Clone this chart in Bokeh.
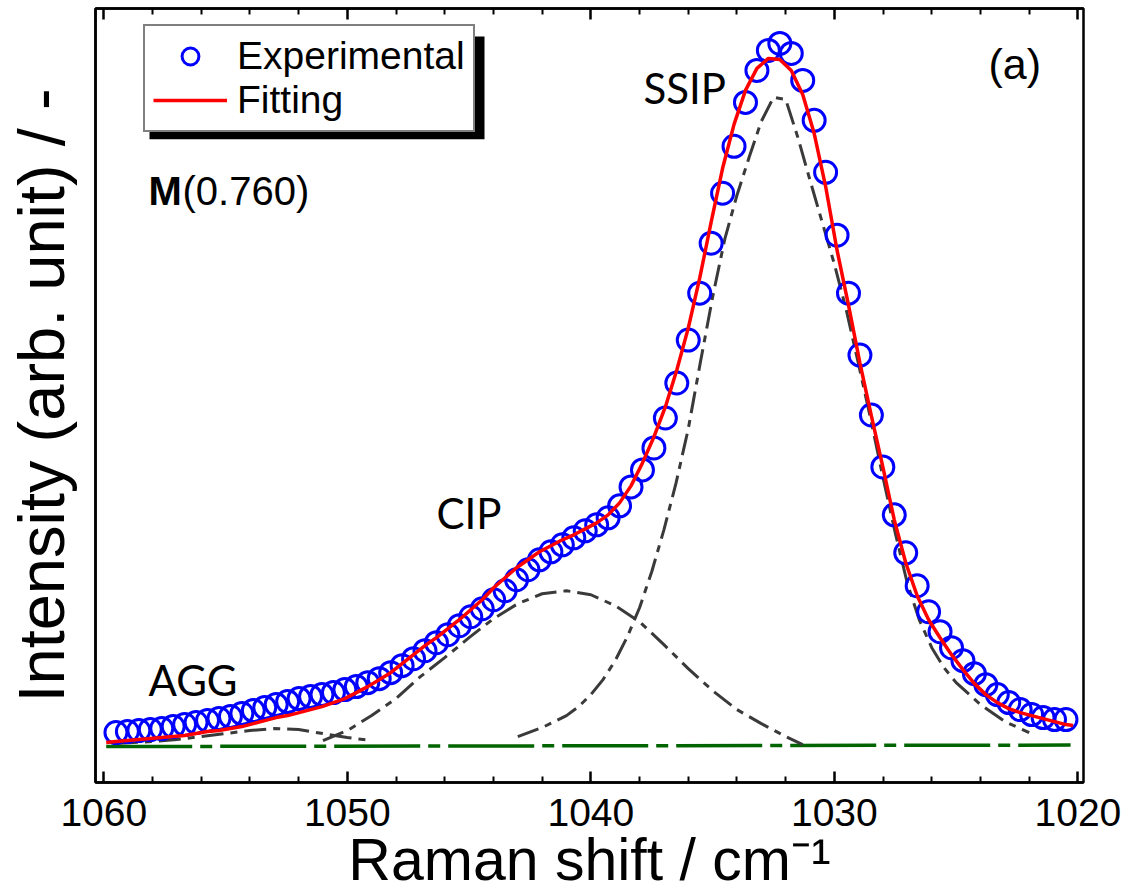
from bokeh.plotting import figure
from bokeh.models import (Range1d, LinearAxis, FixedTicker, Legend, LegendItem,
                          Label, BoxAnnotation)
from bokeh.embed import file_html
from bokeh.resources import INLINE

# ---------------- data ----------------
WAVENUMBER = [
    1059.50, 1059.03, 1058.56, 1058.09, 1057.62, 1057.15, 1056.68, 1056.21, 1055.74, 1055.27,
    1054.80, 1054.33, 1053.86, 1053.39, 1052.92, 1052.45, 1051.98, 1051.51, 1051.04, 1050.57,
    1050.10, 1049.63, 1049.16, 1048.69, 1048.22, 1047.75, 1047.28, 1046.81, 1046.34, 1045.87,
    1045.40, 1044.93, 1044.46, 1043.99, 1043.52, 1043.05, 1042.58, 1042.11, 1041.64, 1041.17,
    1040.70, 1040.23, 1039.76, 1039.29, 1038.82, 1038.35, 1037.88, 1037.41, 1036.94, 1036.47,
    1036.00, 1035.53, 1035.06, 1034.59, 1034.12, 1033.65, 1033.18, 1032.71, 1032.24, 1031.77,
    1031.30, 1030.83, 1030.36, 1029.89, 1029.42, 1028.95, 1028.48, 1028.01, 1027.54, 1027.07,
    1026.60, 1026.13, 1025.66, 1025.19, 1024.72, 1024.25, 1023.78, 1023.31, 1022.84, 1022.37,
    1021.90, 1021.43, 1020.96, 1020.49]

EXPERIMENTAL = [
    14, 15, 16, 17, 18, 20, 22, 24, 26, 28,
    30, 33, 36, 39, 42, 45, 48, 50, 52, 54,
    57, 60, 64, 68, 74, 81, 88, 96, 104, 112,
    121, 130, 138, 147, 156, 167, 177, 187, 195, 202,
    209, 216, 222, 229, 241, 260, 277, 299, 329, 364,
    407, 454, 504, 554, 601, 645, 677, 697, 704, 694,
    667, 627, 575, 512, 454, 392, 332, 280, 232, 194,
    161, 135, 115, 99, 86, 73, 62, 52, 44, 37,
    32, 29, 27, 27]

FIT_X = [1059.90] + WAVENUMBER + [1020.20]
FITTING = [4,
    5, 6, 7, 8, 9, 10, 11, 13, 15, 16,
    18, 20, 23, 26, 29, 31, 34, 37, 40, 44,
    48, 54, 60, 67, 74, 83, 92, 101, 109, 118,
    127, 137, 147, 159, 169, 179, 187, 195, 201, 207,
    212, 218, 224, 232, 244, 261, 284, 310, 340, 377,
    419, 469, 525, 579, 623, 657, 679, 689, 688, 677,
    653, 614, 561, 497, 442, 384, 331, 280, 227, 184,
    151, 127, 109, 92, 77, 63, 52, 44, 38, 34,
    31, 28, 25, 22,
    21]

SSIP_X = [1043, 1042, 1041, 1040.5, 1040, 1039.5, 1039, 1038.5, 1038, 1037.5, 1037,
          1036.5, 1036, 1035.5, 1035, 1034.5, 1034, 1033.5, 1033, 1032.5, 1032, 1031.5,
          1031, 1030.5, 1030, 1029.5, 1029, 1028.5, 1028, 1027.5, 1027, 1026.5, 1026,
          1025.5, 1025, 1024, 1023, 1022]
SSIP_Y = [10, 19, 31, 40, 52, 67, 86, 110, 139, 175, 217,
          264, 318, 385, 450, 508, 552, 590, 626, 650, 648, 610,
          567, 525, 483, 436, 382, 327, 269, 214, 163, 126, 99,
          79, 64, 42, 25, 14]

CIP_X = [1051, 1050, 1049, 1048, 1047, 1046, 1045, 1044, 1043, 1042, 1041, 1040,
         1039, 1038, 1037, 1036, 1035, 1034, 1033, 1032, 1031.3]
CIP_Y = [6, 16, 31, 48, 70, 89, 109, 128, 143, 153, 156, 152,
         141, 125, 102, 78, 56, 37, 23, 10, 2]

AGG_X = [1059.5, 1058, 1057, 1056, 1055, 1054, 1053, 1052, 1051, 1050, 1049]
AGG_Y = [3, 5, 7, 10, 13, 16, 18, 17, 13, 9, 6]

BASE_X = [1059.9, 1020.3]
BASE_Y = [0, 1.5]

MAJOR_TICKS = [1060, 1050, 1040, 1030, 1020]
MINOR_TICKS = [1058, 1056, 1054, 1052, 1048, 1046, 1044, 1042, 1038, 1036, 1034,
               1032, 1028, 1026, 1024, 1022]

# ---------------- layout ----------------
W, H = 1122, 895
FL, FR, FT, FB = 95, 1083, 8, 783
X_START, X_END = 1060.34, 1019.77
Y_START, Y_END = -36, 739


def dx(px):
    return X_START + (px - FL) / (FR - FL) * (X_END - X_START)


def dy(py):
    return Y_START + (FB - py) / (FB - FT) * (Y_END - Y_START)


p = figure(width=W, height=H, x_range=Range1d(X_START, X_END),
           y_range=Range1d(Y_START, Y_END), output_backend="svg",
           toolbar_location=None, min_border_left=FL, min_border_right=W - FR,
           min_border_top=FT, min_border_bottom=H - FB,
           background_fill_color="white", border_fill_color="white",
           outline_line_color="black", outline_line_width=2.5)
p.grid.visible = False

ARIAL = "Liberation Sans"

# bottom axis
xb = p.xaxis[0]
xb.ticker = FixedTicker(ticks=MAJOR_TICKS, minor_ticks=MINOR_TICKS)
xb.major_label_text_font = ARIAL
xb.major_label_text_font_size = "39px"
xb.major_label_text_color = "black"
xb.major_label_standoff = 16
xb.axis_label = "Raman shift / cm\u207b\u00b9"
xb.axis_label_text_font = ARIAL
xb.axis_label_text_font_size = "59px"
xb.axis_label_text_font_style = "normal"
xb.axis_label_text_color = "black"
xb.axis_label_standoff = -2

# top axis (ticks only)
xt = LinearAxis(ticker=FixedTicker(ticks=MAJOR_TICKS, minor_ticks=MINOR_TICKS))
xt.major_label_overrides = {t: "" for t in MAJOR_TICKS}
xt.major_label_text_font_size = "6px"
xt.major_label_standoff = 0
p.add_layout(xt, "above")

for ax in (xb, xt):
    ax.major_tick_in = 11
    ax.major_tick_out = 0
    ax.minor_tick_in = 6
    ax.minor_tick_out = 0
    ax.axis_line_width = 2.5
    ax.major_tick_line_width = 2.5
    ax.minor_tick_line_width = 2
    ax.axis_line_color = "black"
    ax.major_tick_line_color = "black"
    ax.minor_tick_line_color = "black"

# left axis: line + label only
yl = p.yaxis[0]
yl.ticker = FixedTicker(ticks=[])
yl.major_tick_out = 0
yl.major_tick_in = 0
yl.minor_tick_out = 0
yl.minor_tick_in = 0
yl.axis_line_width = 2.5
yl.axis_line_color = "black"
yl.axis_label = "Intensity (arb. unit) / -"
yl.axis_label_text_font = ARIAL
yl.axis_label_text_font_size = "65px"
yl.axis_label_text_font_style = "normal"
yl.axis_label_text_color = "black"
yl.axis_label_standoff = 18

# ---------------- glyphs ----------------
GRAY = "#3a3a3a"
DASH = "22 7 7 7"
p.line(BASE_X, BASE_Y, line_color="#006400", line_width=3.5, line_dash="86 8 12 8")
p.line(AGG_X, AGG_Y, line_color=GRAY, line_width=3, line_dash=DASH)
p.line(CIP_X, CIP_Y, line_color=GRAY, line_width=3, line_dash=DASH)
p.line(SSIP_X, SSIP_Y, line_color=GRAY, line_width=3, line_dash=DASH)
sc = p.scatter(WAVENUMBER, EXPERIMENTAL, marker="circle", size=22, fill_color=None,
               line_color="#0000ff", line_width=3)
fit = p.line(FIT_X, FITTING, line_color="#ff0000", line_width=3.5)

# ---------------- legend with shadow ----------------
shadow = BoxAnnotation(left=dx(149), right=dx(484), top=dy(36), bottom=dy(139),
                       fill_color="black", fill_alpha=1, line_color=None)
p.add_layout(shadow)
legend = Legend(items=[LegendItem(label="Experimental", renderers=[sc]),
                       LegendItem(label="Fitting", renderers=[fit])],
                location=(143 - FL, FB - 133), orientation="vertical",
                border_line_color="black", border_line_width=2.5,
                background_fill_color="white", background_fill_alpha=1,
                label_text_font=ARIAL, label_text_font_size="39px",
                label_text_color="black",
                glyph_width=74, glyph_height=42, label_height=42,
                label_standoff=10, padding=8, spacing=0, margin=0)
p.add_layout(legend, "center")


# ---------------- texts ----------------
def lbl(text, px, py, size, font=ARIAL, style="normal"):
    p.add_layout(Label(x=dx(px), y=dy(py), text=text, text_font=font,
                       text_font_size=size, text_font_style=style,
                       text_align="left", text_baseline="alphabetic",
                       text_color="black"))


lbl("SSIP", 643, 88, "42px", font="Lato")
lbl("CIP", 436, 513, "42px", font="Lato")
lbl("AGG", 148, 680, "42px", font="Lato")
lbl("(a)", 988, 64, "43px")
lbl("M", 148, 191, "40px", style="bold")
lbl("(0.760)", 182, 191, "40px")

open("out.html", "w").write(file_html(p, INLINE))
